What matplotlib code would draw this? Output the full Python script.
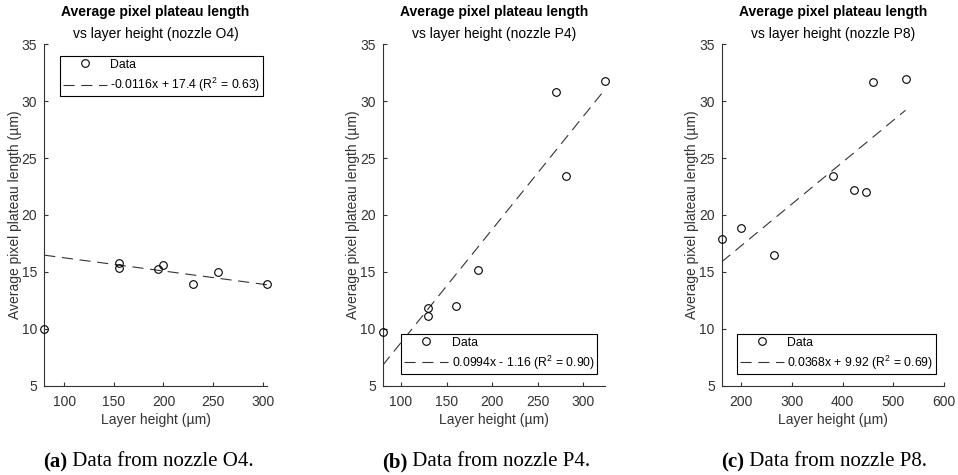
import numpy as np
import matplotlib
matplotlib.use("Agg")
import matplotlib.pyplot as plt

plt.rcParams['font.family'] = ['Liberation Sans', 'DejaVu Sans']
plt.rcParams['mathtext.fontset'] = 'custom'
plt.rcParams['mathtext.rm'] = 'Liberation Sans'
plt.rcParams['mathtext.it'] = 'Liberation Sans'
plt.rcParams['mathtext.bf'] = 'Liberation Sans:bold'

# Nozzle O4
o4_height = [80, 155, 155, 195, 200, 230, 255, 304]
o4_plateau = [10.0, 15.8, 15.35, 15.25, 15.65, 13.9, 15.0, 13.9]
o4_fit = (-0.0116, 17.4)
o4_r2 = 0.63

# Nozzle P4
p4_height = [80, 130, 130, 160, 185, 270, 281, 324]
p4_plateau = [9.7, 11.85, 11.1, 12.0, 15.15, 30.8, 23.4, 31.8]
p4_fit = (0.0994, -1.16)
p4_r2 = 0.90

# Nozzle P8
p8_height = [162, 200, 265, 381, 422, 447, 459, 524]
p8_plateau = [17.9, 18.9, 16.5, 23.4, 22.2, 22.05, 31.7, 31.95]
p8_fit = (0.0368, 9.92)
p8_r2 = 0.69

nozzles = ['O4', 'P4', 'P8']
letters = ['a', 'b', 'c']
xlims = [(80, 304), (80, 324), (162, 600)]
xticks = [[100, 150, 200, 250, 300], [100, 150, 200, 250, 300], [200, 300, 400, 500, 600]]
yticks = [5, 10, 15, 20, 25, 30, 35]

W, H = 958, 475
fig = plt.figure(figsize=(W / 100, H / 100), dpi=100)
renderer = fig.canvas.get_renderer()

ink = '#333333'
panels = [
    (o4_height, o4_plateau, o4_fit, o4_r2),
    (p4_height, p4_plateau, p4_fit, p4_r2),
    (p8_height, p8_plateau, p8_fit, p8_r2),
]
lefts_px = [44.3, 382.7, 721.7]
width_px = 222.4
top_px, bottom_px = 44.3, 385.7
height_px = bottom_px - top_px


def fit_label(slope, icpt, r2):
    sign = '+' if icpt >= 0 else '-'
    return f'{slope:.4g}x {sign} {abs(icpt):.3g} (R$^{{2}}$ = {r2:.2f})'


for i, (x, y, (m, b), r2) in enumerate(panels):
    ax = fig.add_axes([lefts_px[i] / W, 1 - bottom_px / H,
                       width_px / W, height_px / H])
    x = np.asarray(x, float)
    y = np.asarray(y, float)
    ax.plot(x, y, linestyle='none', marker='o', markersize=5.5,
            markerfacecolor='none', markeredgecolor='black',
            markeredgewidth=0.8, label='Data', clip_on=False, zorder=3)
    xf = np.array([x.min(), x.max()])
    ax.plot(xf, m * xf + b, color='#333333', linewidth=0.8,
            dashes=(10, 6), label=fit_label(m, b, r2), zorder=2)

    ax.set_xlim(*xlims[i])
    ax.set_ylim(5, 35)
    ax.set_xticks(xticks[i])
    ax.set_yticks(yticks)
    for side in ('top', 'right'):
        ax.spines[side].set_visible(False)
    for side in ('left', 'bottom'):
        ax.spines[side].set_color(ink)
        ax.spines[side].set_linewidth(0.8)
    ax.tick_params(direction='in', length=3, width=0.8, colors=ink,
                   labelsize=10)
    ax.tick_params(axis='x', pad=7)
    ax.tick_params(axis='y', pad=5)
    ax.set_xlabel('Layer height (µm)', fontsize=10, color=ink)
    ax.set_ylabel('Average pixel plateau length (µm)', fontsize=10, color=ink)
    ax.xaxis.set_label_coords(0.5, -27 / height_px)
    ax.yaxis.set_label_coords(-22.5 / width_px, 0.5)

    ax.text(0.5, 1 + 32 / height_px, 'Average pixel plateau length',
            transform=ax.transAxes, ha='center', va='center',
            fontsize=10, fontweight='bold', color='black')
    ax.text(0.5, 1 + 10 / height_px, f'vs layer height (nozzle {nozzles[i]})',
            transform=ax.transAxes, ha='center', va='center',
            fontsize=10, color='black')

    leg_kw = dict(borderaxespad=0, handlelength=3.6, handletextpad=0.3,
                  borderpad=0.22, labelspacing=0.4, fontsize=8.8,
                  fancybox=False, framealpha=1)
    if i == 0:
        leg = ax.legend(loc='upper left', bbox_to_anchor=(0.0706, 0.9657),
                        **leg_kw)
    else:
        leg = ax.legend(loc='lower right', bbox_to_anchor=(0.965, 0.0334),
                        **leg_kw)
    leg.get_frame().set_edgecolor('black')
    leg.get_frame().set_linewidth(0.8)

    # Sub-figure caption: bold letter followed by the description
    cap_y = 1 - 462 / H
    x0 = (lefts_px[i] - 1) / W
    lab = fig.text(x0, cap_y, f'({letters[i]})', ha='left', va='center',
                   fontsize=15, fontweight='bold',
                   family='Liberation Serif', color='black')
    bb = lab.get_window_extent(renderer=renderer)
    fig.text(bb.x1 / W, cap_y, f' Data from nozzle {nozzles[i]}.',
             ha='left', va='center', fontsize=15,
             family='Liberation Serif', color='black')

fig.savefig('out.png', dpi=100)
